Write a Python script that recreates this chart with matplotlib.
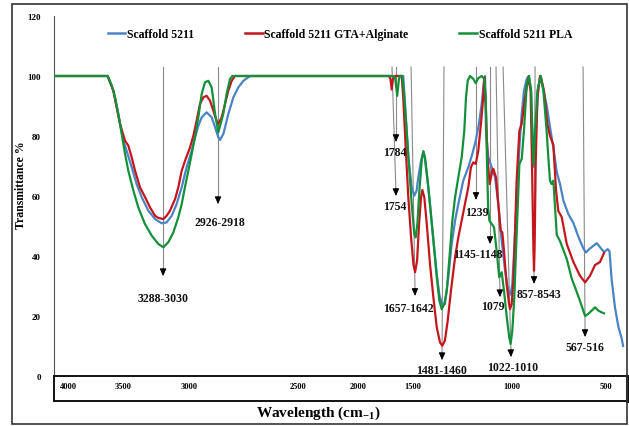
import matplotlib
matplotlib.use("Agg")
import matplotlib.pyplot as plt
from matplotlib.lines import Line2D
from matplotlib.patches import Rectangle

# ---------------- data ----------------
series_names = ["Scaffold 5211", "Scaffold 5211 GTA+Alginate", "Scaffold 5211 PLA"]

wn_blue = [4000, 3638, 3601, 3569, 3536, 3515, 3482, 3450, 3417, 3374, 3330, 3287, 3255, 3222,
           3190, 3157, 3125, 3092, 3070, 3049, 3027, 2995, 2962, 2940, 2919, 2908, 2886, 2854,
           2821, 2789, 2756, 2713, 1730, 1717, 1701, 1684, 1662, 1645, 1630, 1619, 1601, 1586,
           1576, 1558, 1543, 1521, 1499, 1482, 1465, 1446, 1424, 1402, 1380, 1359, 1327, 1294,
           1268, 1246, 1225, 1207, 1192, 1185, 1179, 1164, 1142, 1120, 1099, 1077, 1055, 1034,
           1019, 1008, 995, 979, 962, 947, 932, 914, 901, 886, 871, 865, 856, 839, 824, 784,
           763, 741, 719, 698, 676, 644, 611, 579, 546, 529, 503, 459, 431, 412, 388, 376, 362,
           341, 319, 297, 288]
t_blue = [100, 100, 95.1, 87.3, 78.4, 75.1, 69.6, 64.0, 59.6, 55.1, 52.3, 50.9, 51.2, 53.4,
          57.3, 62.9, 69.6, 75.1, 79.6, 83.4, 86.2, 87.9, 86.2, 82.9, 79.6, 78.7, 80.7, 87.3,
          92.9, 96.2, 98.4, 100, 100, 100, 87.3, 72.9, 62.9, 60.1, 61.8, 66.2, 71.8, 74.9,
          72.5, 64.5, 57.0, 45.5, 34.0, 27.0, 24.0, 24.0, 32.9, 44.0, 51.8, 57.3, 65.1, 69.6,
          74.0, 78.4, 84.0, 90.7, 98.4, 100, 81.8, 72.9, 69.6, 66.2, 57.3, 45.1, 35.1, 28.4,
          27.1, 30.7, 42.9, 59.6, 76.2, 87.3, 95.1, 99.0, 100, 95.0, 70.7, 69.6, 81.0, 96.0, 100, 90.0,
          83.0, 76.0, 68.0, 64.0, 58.5, 54.0, 51.0, 46.5, 42.5, 41.2, 42.5, 44.3, 42.5, 41.3, 42.3, 41.5, 32.0,
          23.0, 16.5, 12.5, 10.0]

wn_red = [4000, 3638, 3601, 3580, 3558, 3525, 3504, 3482, 3460, 3428, 3395, 3363, 3330, 3309,
          3276, 3255, 3233, 3200, 3179, 3157, 3135, 3103, 3081, 3060, 3038, 3016, 2995, 2973,
          2951, 2930, 2919, 2897, 2875, 2854, 2832, 2811, 1810, 1800, 1792, 1784, 1770, 1727,
          1717, 1701, 1684, 1666, 1651, 1640, 1627, 1614, 1601, 1593, 1580, 1564, 1543, 1521,
          1499, 1478, 1463, 1446, 1428, 1407, 1380, 1359, 1337, 1316, 1294, 1277, 1262, 1246,
          1229, 1212, 1197, 1190, 1180, 1170, 1155, 1138, 1131, 1114, 1099, 1084, 1073, 1062,
          1045, 1029, 1023, 1012, 1001, 990, 980, 962, 947, 925, 904, 889, 880, 871, 867,
          863, 856, 845, 828, 824, 802, 780, 763, 741, 724, 709, 687, 654, 611, 568, 535,
          503, 470, 438, 412]
t_red = [100, 100, 95.1, 89.6, 84.0, 78.4, 76.8, 72.9, 68.4, 62.9, 59.6, 56.2, 53.4, 52.7,
         52.3, 53.4, 55.1, 59.0, 62.9, 68.4, 71.8, 76.2, 80.1, 85.1, 90.7, 92.9, 93.4, 91.8,
         88.4, 85.1, 84.0, 86.2, 90.7, 95.1, 98.4, 100, 100, 99.0, 95.5, 99.0, 100, 100,
         92.9, 76.2, 59.6, 46.2, 37.3, 34.6, 38.4, 50.7, 59.6, 62.0, 59.6, 50.7, 37.3, 26.2,
         16.2, 11.2, 10.1, 11.8, 18.4, 28.4, 39.6, 46.2, 51.8, 57.3, 62.9, 69.6, 71.2, 70.7,
         75.1, 84.0, 92.9, 99.5, 90.0, 73.0, 64.0, 68.5, 69.0, 66.2, 57.3, 48.4, 47.9, 41.8,
         30.7, 24.0, 22.3, 24.0, 31.8, 48.4, 65.1, 81.8, 84.0, 92.9, 99.6, 95.1, 70.7, 42.9, 35.1,
         42.9, 70.7, 92.9, 100, 100, 95.0, 84.0, 80.0, 77.0, 62.0, 55.0, 53.0, 44.0, 38.0, 33.4, 31.2,
         33.4, 37.0, 38.0, 41.0]

wn_green = [4000, 3638, 3612, 3590, 3569, 3547, 3525, 3504, 3471, 3439, 3396, 3352, 3309, 3276,
            3244, 3211, 3179, 3157, 3136, 3114, 3092, 3071, 3049, 3027, 3006, 2984, 2962, 2940,
            2919, 2887, 2865, 2843, 2828, 1790, 1770, 1756, 1745, 1738, 1723, 1710, 1695, 1680,
            1662, 1645, 1636, 1625, 1612, 1597, 1586, 1576, 1558, 1543, 1521, 1499, 1482, 1467,
            1450, 1434, 1413, 1398, 1380, 1359, 1337, 1320, 1309, 1298, 1283, 1261, 1246, 1229,
            1207, 1190, 1181, 1172, 1165, 1157, 1142, 1127, 1110, 1093, 1077, 1062, 1044, 1028,
            1019, 1008, 995, 979, 962, 947, 932, 914, 899, 886, 875, 869, 860, 845, 824, 806,
            785, 774, 763, 752, 741, 719, 698, 654, 622, 589, 568, 535, 514, 492, 470, 449, 427, 412]
t_green = [100, 100, 96.8, 92.9, 87.3, 80.7, 74.0, 68.4, 61.8, 56.2, 50.7, 46.8, 44.0, 42.9,
           44.6, 47.9, 52.9, 57.3, 62.9, 68.4, 74.0, 79.6, 86.2, 94.0, 97.9, 98.4, 96.2, 87.3,
           81.2, 87.3, 94.0, 99.0, 100, 100, 99.5, 93.4, 99.0, 100, 100, 92.9, 81.8, 70.7,
           57.3, 47.3, 46.2, 50.7, 61.8, 71.8, 74.9, 72.9, 65.1, 57.3, 45.1, 32.9, 25.1, 22.3,
           24.0, 28.4, 41.8, 51.8, 59.6, 66.2, 72.9, 81.8, 92.9, 98.4, 100, 99.0, 97.6, 99.3,
           100, 99.0, 92.9, 70.0, 56.0, 51.8, 50.7, 49.6, 41.8, 32.9, 34.6, 28.4, 19.6, 12.9,
           10.7, 15.1, 26.2, 48.4, 70.7, 72.3, 81.8, 97.3, 100, 95.1, 76.2, 70.7, 81.8, 95.1, 100, 95.1,
           81.8, 72.9, 65.1, 64.0, 65.1, 47.0, 45.0, 39.0, 32.5, 28.0, 25.0, 20.0, 20.7, 21.8, 22.9, 21.8, 21.2, 20.9]

y_ticks = [0, 20, 40, 60, 80, 100, 120]
x_tick_labels = ["4000", "3500", "3000", "2500", "2000", "1500", "1000", "500"]
peak_labels = ["3288-3030", "2926-2918", "1784", "1754", "1657-1642", "1481-1460",
               "1239", "1145-1148", "1079", "1022-1010", "857-8543", "567-516"]

# ---------------- layout / style ----------------
W, H = 629, 427
colors = ["#4a84c4", "#c4161c", "#14903a"]
serif = "Liberation Serif"
plt.rcParams["font.family"] = [serif, "DejaVu Serif"]
plt.rcParams["font.weight"] = "bold"
plt.rcParams["mathtext.fontset"] = "custom"
plt.rcParams["mathtext.rm"] = serif + ":bold"
plt.rcParams["mathtext.it"] = serif + ":bold"
plt.rcParams["mathtext.bf"] = serif + ":bold"

# (x_top, x_tip, y_tip, x_label, y_label) for each peak annotation (data units)
arrow_layout = [
    (3278, 3278, 33.3, 3278, 25.9),
    (2921, 2921, 57.3, 2908, 51.3),
    (1764, 1764, 78.0, 1770, 74.8),
    (1790, 1764, 60.0, 1770, 56.8),
    (1666, 1640, 26.7, 1686, 22.7),
    (1452, 1465, 5.3, 1465, 2.0),
    (1244, 1244, 58.7, 1237, 54.7),
    (1153, 1153, 44.0, 1234, 40.7),
    (1114, 1088, 26.3, 1133, 23.3),
    (1068, 1016, 6.3, 1003, 3.0),
    (860, 867, 30.7, 834, 27.3),
    (548, 535, 13.0, 535, 9.8),
]
y_top = 103
tick_px = [68, 123.3, 189, 297.7, 357.7, 412.3, 512.3, 605.5]

fig = plt.figure(figsize=(W / 100, H / 100), dpi=100)
ax = fig.add_axes([54 / W, 1 - 377 / H, 573 / W, 360 / H])
ax.set_xlim(3987, 262.5)
ax.set_ylim(0, 120)

for (xt, xb, yb, xl, yl), lab in zip(arrow_layout, peak_labels):
    ax.plot([xt, xb], [y_top, yb + 1.0], color="#8a8a8a", lw=0.8, zorder=1, clip_on=False)
    ax.annotate("", xy=(xb, yb), xytext=(xb + (xt - xb) * 0.04, yb + 2.5),
                arrowprops=dict(arrowstyle="-|>,head_length=0.45,head_width=0.2",
                                color="black", lw=0.6, shrinkA=0, shrinkB=0), zorder=4)
    ax.text(xl, yl, lab, ha="center", va="center", fontsize=8.5, fontweight="bold",
            color="#111111", zorder=5)

for wn, t, c in zip([wn_blue, wn_red, wn_green], [t_blue, t_red, t_green], colors):
    ax.plot(wn, t, color=c, lw=1.6, zorder=3, solid_joinstyle="round")

ax.set_yticks(y_ticks)
ax.set_yticklabels([str(v) for v in y_ticks], fontsize=6.5, fontweight="bold")
ax.tick_params(axis="y", length=0, pad=9.5)
ax.set_xticks([])
for s in ["top", "right", "bottom"]:
    ax.spines[s].set_visible(False)
ax.spines["left"].set_color("#555555")
ax.spines["left"].set_linewidth(0.8)

# x axis box with tick labels
bx = fig.add_axes([54 / W, 1 - 402 / H, 573 / W, 25 / H])
bx.set_xlim(54, 627)
bx.set_ylim(0, 1)
bx.set_yticks([])
bx.set_xticks(tick_px)
bx.set_xticklabels(x_tick_labels, fontsize=6, fontweight="bold")
bx.tick_params(axis="x", length=0, pad=-14)
for s in bx.spines.values():
    s.set_color("#111111")
    s.set_linewidth(1.4)
bx.spines["right"].set_linewidth(2.2)

# legend
handles = [Line2D([], [], color=c, lw=1.8) for c in colors]
fig.legend(handles, series_names, loc="center", bbox_to_anchor=(340 / W, 1 - 35 / H),
           ncol=3, frameon=False, prop=dict(family=serif, weight="bold", size=8.5),
           handlelength=1.5, handletextpad=0.15, columnspacing=4.3)

fig.text(21 / W, 1 - 185 / H, "Transmittance %", rotation=90, ha="center", va="center",
         fontsize=8.5, fontweight="bold")
fig.text(318 / W, 1 - 413 / H, r"Wavelength (cm$_{-1}$)", ha="center", va="center",
         fontsize=11, fontweight="bold")

fig.patches.append(Rectangle((12 / W, 2 / H), 615 / W, 420 / H, transform=fig.transFigure,
                             fill=False, edgecolor="#333333", lw=1.2))

fig.savefig("out.png", dpi=100, facecolor="white")
